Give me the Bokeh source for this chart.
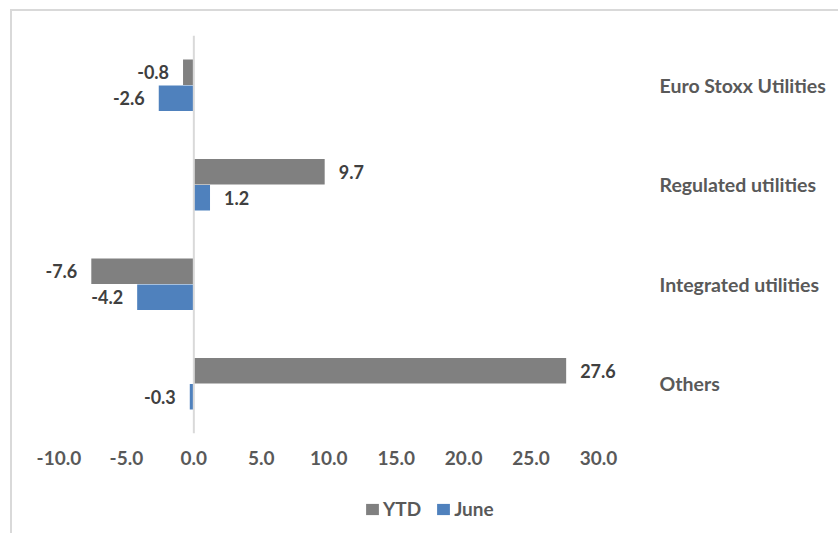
from bokeh.plotting import figure
from bokeh.layouts import column
from bokeh.models import (ColumnDataSource, FactorRange, Range1d, CategoricalAxis,
                          FixedTicker, NumeralTickFormatter, Span, Legend, LegendItem)
from bokeh.transform import dodge
from bokeh.core.properties import value
from bokeh.embed import file_html
from bokeh.resources import INLINE

categories = ["Euro Stoxx Utilities", "Regulated utilities", "Integrated utilities", "Others"]
ytd = [-0.8, 9.7, -7.6, 27.6]
june = [-2.6, 1.2, -4.2, -0.3]
x_ticks = [-10, -5, 0, 5, 10, 15, 20, 25, 30]
series_names = ["YTD", "June"]

FONT = "Lato"
GRAY = "#808080"
BLUE = "#4F81BD"

def labels_src(vals):
    return ColumnDataSource(dict(
        cat=categories,
        val=vals,
        txt=["%.1f" % v for v in vals],
        align=["left" if v >= 0 else "right" for v in vals],
        xoff=[14 if v >= 0 else -14 for v in vals],
    ))

src_ytd = labels_src(ytd)
src_june = labels_src(june)

p = figure(width=826, height=469, output_backend="svg", toolbar_location=None,
           y_range=FactorRange(factors=list(reversed(categories)), range_padding=0),
           x_range=Range1d(-12.70, 33.11),
           min_border_left=10, min_border_right=198, min_border_top=24, min_border_bottom=47,
           y_axis_location=None)
p.outline_line_color = None
p.xgrid.visible = False
p.ygrid.visible = False
p.background_fill_color = "white"
p.border_fill_color = "white"

off = 0.131
bh = 0.257
p.hbar(y=dodge("cat", off, range=p.y_range), left=0, right="val", height=bh,
       source=src_ytd, fill_color=GRAY, line_color=None)
p.hbar(y=dodge("cat", -off, range=p.y_range), left=0, right="val", height=bh,
       source=src_june, fill_color=BLUE, line_color=None)

p.add_layout(Span(location=0, dimension="height", line_color="#d9d9d9", line_width=2))

for src, o in ((src_ytd, off), (src_june, -off)):
    p.text(x="val", y=dodge("cat", o, range=p.y_range), text="txt", source=src,
           text_align="align", x_offset="xoff", text_baseline="middle",
           text_font=value(FONT), text_font_style="bold", text_font_size="18px",
           text_color="#404040")

# bottom axis
xa = p.xaxis[0]
xa.ticker = FixedTicker(ticks=x_ticks)
xa.formatter = NumeralTickFormatter(format="0.0")
xa.axis_line_color = None
xa.major_tick_line_color = None
xa.minor_tick_line_color = None
xa.major_tick_out = 0
xa.major_tick_in = 0
xa.major_label_standoff = 17
xa.major_label_text_font = FONT
xa.major_label_text_font_style = "bold"
xa.major_label_text_font_size = "19px"
xa.major_label_text_color = "#595959"

# right category axis
ya = CategoricalAxis()
ya.axis_line_color = None
ya.major_tick_line_color = None
ya.minor_tick_line_color = None
ya.major_tick_out = 0
ya.major_tick_in = 0
ya.major_label_standoff = 19
ya.major_label_text_font = FONT
ya.major_label_text_font_style = "bold"
ya.major_label_text_font_size = "19.5px"
ya.major_label_text_color = "#595959"
p.add_layout(ya, "right")

# legend strip below the chart (swatch renderers sit outside the visible range)
q = figure(width=826, height=53, output_backend="svg", toolbar_location=None,
           x_range=Range1d(0, 1), y_range=Range1d(0, 1),
           min_border_left=0, min_border_right=0, min_border_top=0, min_border_bottom=0,
           x_axis_location=None, y_axis_location=None)
q.outline_line_color = None
q.xgrid.visible = False
q.ygrid.visible = False
swatch = ColumnDataSource(dict(y=[-5], right=[0]))
l_ytd = q.hbar(y="y", right="right", left=0, height=0.1, source=swatch, fill_color=GRAY, line_color=None)
l_june = q.hbar(y="y", right="right", left=0, height=0.1, source=swatch, fill_color=BLUE, line_color=None)
legend = Legend(items=[LegendItem(label=series_names[0], renderers=[l_ytd]),
                       LegendItem(label=series_names[1], renderers=[l_june])],
                orientation="horizontal", location=(342, 13),
                glyph_width=16, glyph_height=14, label_standoff=3, spacing=14,
                padding=0, margin=0, border_line_color=None, background_fill_alpha=0,
                label_text_font=FONT, label_text_font_style="bold",
                label_text_font_size="19px", label_text_color="#595959")
q.add_layout(legend)

layout = column(p, q, spacing=0,
                styles={"border-top": "2px solid #d9d9d9", "border-left": "2px solid #d9d9d9",
                        "margin-top": "9px", "margin-left": "10px"})

open("out.html", "w").write(file_html(layout, INLINE))
